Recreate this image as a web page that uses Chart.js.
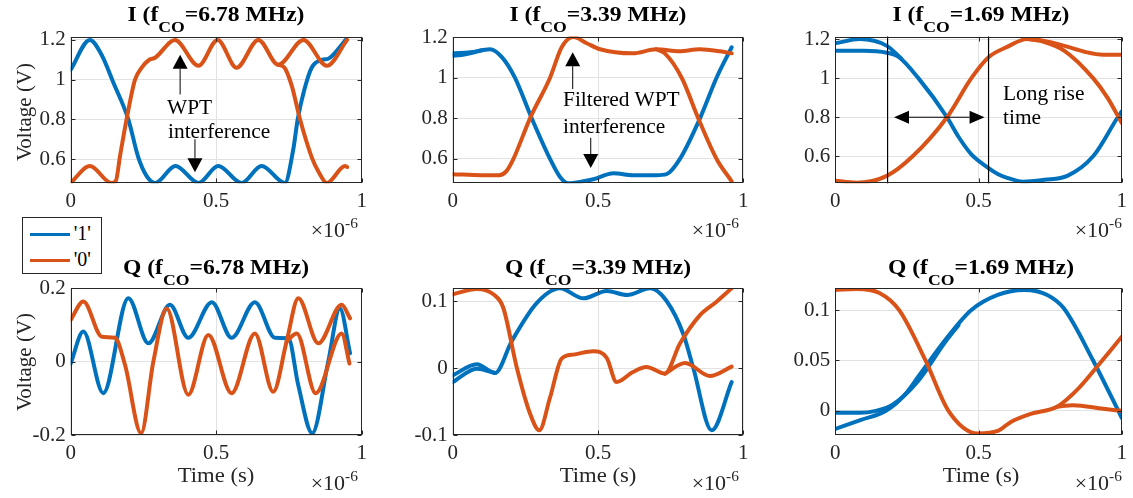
<!DOCTYPE html>
<html>
<head>
<meta charset="utf-8">
<script src="https://cdn.jsdelivr.net/npm/chart.js@4.4.0/dist/chart.umd.min.js"></script>
<style>
  html, body { margin: 0; padding: 0; background: #fff; }
  #fig { position: relative; width: 1133px; height: 498px; overflow: hidden;
         font-family: 'Liberation Serif', 'Times New Roman', serif; color: #262626; }
  #fig canvas { position: absolute; left: 0; top: 0; }
  .txt { position: absolute; white-space: nowrap; line-height: 1; font-size: 20px; }
  .ttl { font-weight: bold; color: #000; transform: translateX(-50%) scaleX(1.18); }
  .ttl .sub { font-size: 15px; position: relative; top: 11px; }
  .exp { transform: scaleX(1.1); transform-origin: right; }
  .exp .sup { font-size: 14px; position: relative; top: -9px; }
  .note { transform: scaleX(1.07); transform-origin: left; color: #000; }
  .xlab { transform: translateX(-50%) scaleX(1.08); font-size: 21px; }
  .ylab { font-size: 21px; transform: translate(-50%, -50%) rotate(-90deg); }
  #legend { position: absolute; left: 21.7px; top: 217.3px; width: 80px; height: 56.7px;
            border: 1px solid #262626; background: #fff; box-sizing: border-box; }
  .lgline { position: absolute; left: 7px; width: 40px; height: 3px; }
  .lgtxt { position: absolute; left: 51px; font-size: 20px; line-height: 1; color: #000; }
</style>
</head>
<body>
<div id="fig"></div>
<script>
// ---------------- data (time in units of 1e-6 s, voltage in V) ----------------
// I channel, fCO = 6.78 MHz
const tI678One   = [0, 0.066, 0.106, 0.148, 0.198, 0.232, 0.26, 0.29, 0.36, 0.439, 0.507, 0.587, 0.656, 0.736, 0.765, 0.78, 0.803, 0.828, 0.866, 0.885, 0.945];
const vI678One   = [1.05, 1.2, 1.125, 0.98, 0.8, 0.61, 0.517, 0.48, 0.565, 0.48, 0.565, 0.48, 0.565, 0.48, 0.65, 0.8, 0.95, 1.06, 1.1, 1.105, 1.2];
const tI678Zero  = [0, 0.066, 0.14, 0.155, 0.17, 0.192, 0.221, 0.244, 0.27, 0.29, 0.358, 0.439, 0.505, 0.57, 0.645, 0.713, 0.8, 0.88, 0.95];
const vI678Zero  = [0.48, 0.565, 0.48, 0.49, 0.62, 0.8, 1.0, 1.06, 1.1, 1.11, 1.2, 1.07, 1.2, 1.06, 1.2, 1.075, 1.2, 1.07, 1.2];
const tI678Zero2 = [0.713, 0.735, 0.76, 0.788, 0.828, 0.852, 0.88, 0.943, 0.95];
const vI678Zero2 = [1.075, 1.06, 0.967, 0.8, 0.61, 0.535, 0.48, 0.565, 0.56];

// I channel, fCO = 3.39 MHz
const tI339One   = [0, 0.06, 0.128, 0.17, 0.214, 0.272, 0.335, 0.37, 0.398, 0.45, 0.484, 0.553, 0.62, 0.7, 0.736, 0.782, 0.851, 0.908, 0.96];
const vI339One   = [1.12, 1.125, 1.14, 1.1, 1.0, 0.8, 0.6, 0.51, 0.48, 0.49, 0.5, 0.53, 0.52, 0.52, 0.525, 0.6, 0.8, 1.0, 1.15];
const tI339One2  = [0, 0.03, 0.06, 0.1];
const vI339One2  = [1.108, 1.112, 1.12, 1.135];
const tI339Zero  = [0, 0.1, 0.16, 0.185, 0.209, 0.266, 0.335, 0.375, 0.415, 0.461, 0.507, 0.62, 0.7, 0.78, 0.85, 0.92, 0.96];
const vI339Zero  = [0.525, 0.52, 0.52, 0.54, 0.6, 0.8, 1.0, 1.15, 1.2, 1.17, 1.14, 1.12, 1.14, 1.13, 1.14, 1.13, 1.12];
const tI339Zero2 = [0.7, 0.73, 0.788, 0.845, 0.908, 0.96];
const vI339Zero2 = [1.14, 1.12, 1.0, 0.8, 0.6, 0.49];

// I channel, fCO = 1.69 MHz
const tI169One   = [0, 0.085, 0.18, 0.23];
const vI169One   = [1.178, 1.2, 1.165, 1.1];
const tI169One2  = [0, 0.1, 0.18, 0.22, 0.29, 0.39, 0.43, 0.475, 0.535, 0.567, 0.6, 0.655, 0.73, 0.81, 0.9, 0.986, 1.0];
const vI169One2  = [1.14, 1.14, 1.13, 1.11, 1.0, 0.8, 0.7, 0.61, 0.54, 0.51, 0.49, 0.47, 0.48, 0.5, 0.6, 0.8, 0.83];
const tI169Zero  = [0, 0.073, 0.18, 0.27, 0.39, 0.475, 0.535, 0.6, 0.67, 0.73, 0.8, 0.87, 0.935, 1.0];
const vI169Zero  = [0.475, 0.465, 0.5, 0.6, 0.8, 1.0, 1.107, 1.16, 1.2, 1.19, 1.165, 1.135, 1.12, 1.12];
const tI169Zero2 = [0.67, 0.73, 0.8, 0.9, 0.95, 1.0];
const vI169Zero2 = [1.2, 1.185, 1.14, 1.0, 0.9, 0.77];

// Q channel, fCO = 6.78 MHz
const tQ678One   = [0, 0.0435, 0.112, 0.198, 0.267, 0.341, 0.404, 0.485, 0.553, 0.633, 0.702, 0.748, 0.782, 0.83, 0.885, 0.925, 0.96];
const vQ678One   = [-0.005, 0.082, -0.086, 0.173, 0.05, 0.155, 0.065, 0.162, 0.065, 0.162, 0.065, 0.064, -0.064, -0.195, 0.0, 0.145, 0.023];
const tQ678Zero  = [0, 0.0435, 0.107, 0.152, 0.187, 0.242, 0.284, 0.33, 0.404, 0.473, 0.553, 0.633, 0.696, 0.742, 0.782, 0.851, 0.931, 0.96];
const vQ678Zero  = [0.114, 0.164, 0.068, 0.065, -0.01, -0.195, 0.0, 0.145, -0.09, 0.073, -0.086, 0.077, -0.082, 0.055, 0.173, 0.05, 0.155, 0.118];
const tQ678Zero2 = [0.742, 0.777, 0.842, 0.931, 0.958];
const vQ678Zero2 = [0.055, 0.077, -0.086, 0.077, -0.005];

// Q channel, fCO = 3.39 MHz
const tQ339One   = [0, 0.083, 0.146, 0.203, 0.289, 0.369, 0.45, 0.53, 0.6, 0.68, 0.736, 0.794, 0.828, 0.891, 0.96];
const vQ339One   = [-0.011, 0.0055, -0.0075, 0.04, 0.097, 0.119, 0.104, 0.115, 0.109, 0.119, 0.1, 0.05, 0.0, -0.093, -0.021];
const tQ339One2  = [0, 0.083, 0.146];
const vQ339One2  = [-0.021, -0.001, -0.0075];
const tQ339Zero  = [0, 0.083, 0.14, 0.174, 0.22, 0.266, 0.298, 0.335, 0.375, 0.415, 0.484, 0.53, 0.564, 0.62, 0.667, 0.73, 0.782, 0.851, 0.908, 0.96];
const vQ339Zero  = [0.11, 0.118, 0.11, 0.09, 0.0015, -0.068, -0.093, -0.044, 0.014, 0.02, 0.025, 0.015, -0.021, -0.006, 0.0015, -0.0085, 0.0365, 0.079, 0.099, 0.119];
const tQ339Zero2 = [0.73, 0.8, 0.885, 0.96];
const vQ339Zero2 = [-0.0085, 0.0075, -0.012, 0.002];

// Q channel, fCO = 1.69 MHz
const tQ169One   = [0, 0.085, 0.142, 0.2, 0.29, 0.383, 0.43];
const vQ169One   = [-0.002, -0.002, 0.0, 0.006, 0.03, 0.068, 0.085];
const tQ169One2  = [0, 0.09, 0.177, 0.24, 0.29, 0.383, 0.475, 0.567, 0.66, 0.74, 0.797, 0.9, 1.0];
const vQ169One2  = [-0.018, -0.009, 0.0, 0.015, 0.034, 0.07, 0.1, 0.115, 0.12, 0.115, 0.102, 0.05, -0.007];
const tQ169Zero  = [0, 0.073, 0.154, 0.223, 0.315, 0.395, 0.498, 0.567, 0.613, 0.682, 0.774, 0.843, 0.923, 1.0];
const vQ169Zero  = [0.12, 0.121, 0.117, 0.1, 0.05, 0.0, -0.0225, -0.02, -0.011, -0.003, 0.004, 0.0205, 0.047, 0.0735];
const tQ169Zero2 = [0.774, 0.83, 0.935, 1.0];
const vQ169Zero2 = [0.004, 0.0056, 0.002, 0.0];

// tick labels
const xTicks     = [0, 0.5, 1];
const yTicksI    = [0.6, 0.8, 1, 1.2];
const yTicksQ678 = [-0.2, 0, 0.2];
const yTicksQ339 = [-0.1, 0, 0.1];
const yTicksQ169 = [0, 0.05, 0.1];

// ---------------- styling / layout ----------------
const W = 1133, H = 498;
const Y_W = 50, X_H = 30;
const C_ONE = '#0072BD', C_ZERO = '#D95319';
const GRID = '#e2e2e2';
const TICK_FONT = { family: "'Liberation Serif', 'Times New Roman', serif", size: 21 };

const colL = [70.7, 452.7, 835.3], colR = [361.7, 743.3, 1125.7];
const rowT = [36.5, 288.3], rowB = [183.3, 435];

const panels = [
  { col: 0, row: 0, yMin: 0.478, yMax: 1.217, yTicks: yTicksI,
    one: [[tI678One, vI678One]], zero: [[tI678Zero, vI678Zero], [tI678Zero2, vI678Zero2]],
    arrows: [{ x1: 0.376, y1: 0.925, x2: 0.376, y2: 1.125 }, { x1: 0.427, y1: 0.70, x2: 0.427, y2: 0.533 }] },
  { col: 1, row: 0, yMin: 0.48, yMax: 1.203, yTicks: yTicksI,
    one: [[tI339One, vI339One], [tI339One2, vI339One2]], zero: [[tI339Zero, vI339Zero], [tI339Zero2, vI339Zero2]],
    arrows: [{ x1: 0.413, y1: 0.944, x2: 0.413, y2: 1.126 }, { x1: 0.475, y1: 0.704, x2: 0.475, y2: 0.555 }] },
  { col: 2, row: 0, yMin: 0.462, yMax: 1.213, yTicks: yTicksI,
    one: [[tI169One, vI169One], [tI169One2, vI169One2]], zero: [[tI169Zero, vI169Zero], [tI169Zero2, vI169Zero2]],
    arrows: [{ x1: 0.205, y1: 0.8, x2: 0.521, y2: 0.8, both: true }], vlines: [0.1825, 0.535] },
  { col: 0, row: 1, yMin: -0.2, yMax: 0.2, yTicks: yTicksQ678,
    one: [[tQ678One, vQ678One]], zero: [[tQ678Zero, vQ678Zero], [tQ678Zero2, vQ678Zero2]] },
  { col: 1, row: 1, yMin: -0.1, yMax: 0.119, yTicks: yTicksQ339,
    one: [[tQ339One, vQ339One], [tQ339One2, vQ339One2]], zero: [[tQ339Zero, vQ339Zero], [tQ339Zero2, vQ339Zero2]] },
  { col: 2, row: 1, yMin: -0.024, yMax: 0.1216, yTicks: yTicksQ169,
    one: [[tQ169One, vQ169One], [tQ169One2, vQ169One2]], zero: [[tQ169Zero, vQ169Zero], [tQ169Zero2, vQ169Zero2]] }
];

function arrowHead(ctx, tx, ty, dx, dy, len, half) {
  const bx = tx - dx * len, by = ty - dy * len;
  ctx.beginPath();
  ctx.moveTo(tx, ty);
  ctx.lineTo(bx - dy * half, by + dx * half);
  ctx.lineTo(bx + dy * half, by - dx * half);
  ctx.closePath();
  ctx.fill();
}

// box, inner ticks and annotations drawn like a MATLAB axes
const axesPlugin = {
  id: 'matlabAxes',
  afterDatasetsDraw(chart, args, opts) {
    const { ctx, chartArea: a } = chart;
    const x = chart.scales.x, y = chart.scales.y;
    ctx.save();
    ctx.strokeStyle = '#000';
    ctx.fillStyle = '#000';
    ctx.lineWidth = 1.2;
    (opts.vlines || []).forEach(v => {
      const px = x.getPixelForValue(v);
      ctx.beginPath(); ctx.moveTo(px, a.top); ctx.lineTo(px, a.bottom); ctx.stroke();
    });
    ctx.lineWidth = 1;
    (opts.arrows || []).forEach(ar => {
      const x1 = x.getPixelForValue(ar.x1), y1 = y.getPixelForValue(ar.y1);
      const x2 = x.getPixelForValue(ar.x2), y2 = y.getPixelForValue(ar.y2);
      const d = Math.hypot(x2 - x1, y2 - y1), dx = (x2 - x1) / d, dy = (y2 - y1) / d;
      const len = ar.both ? 15 : 14, half = ar.both ? 6.5 : 7.5;
      ctx.beginPath();
      ctx.moveTo(x1 + (ar.both ? dx * len : 0), y1 + (ar.both ? dy * len : 0));
      ctx.lineTo(x2 - dx * len, y2 - dy * len);
      ctx.stroke();
      arrowHead(ctx, x2, y2, dx, dy, len, half);
      if (ar.both) arrowHead(ctx, x1, y1, -dx, -dy, len, half);
    });
    // axes box
    ctx.strokeStyle = '#262626';
    ctx.lineWidth = 1;
    const l = Math.round(a.left) + 0.5, t = Math.round(a.top) + 0.5;
    const r = Math.round(a.right) - 0.5, b = Math.round(a.bottom) - 0.5;
    ctx.strokeRect(l, t, r - l, b - t);
    // inner tick marks
    const tl = 4;
    ctx.beginPath();
    y.ticks.forEach(tk => {
      const py = Math.round(y.getPixelForValue(tk.value)) + 0.5;
      ctx.moveTo(l, py); ctx.lineTo(l + tl, py);
      ctx.moveTo(r, py); ctx.lineTo(r - tl, py);
    });
    x.ticks.forEach(tk => {
      const px = Math.round(x.getPixelForValue(tk.value)) + 0.5;
      ctx.moveTo(px, b); ctx.lineTo(px, b - tl);
      ctx.moveTo(px, t); ctx.lineTo(px, t + tl);
    });
    ctx.stroke();
    ctx.restore();
  }
};

function toPoints(ts, vs) {
  return ts.map((t, i) => ({ x: t, y: vs[i] }));
}

function lineSet(pair, color) {
  return {
    data: toPoints(pair[0], pair[1]),
    borderColor: color,
    borderWidth: 4,
    pointRadius: 0,
    cubicInterpolationMode: 'monotone',
    borderCapStyle: 'round',
    borderJoinStyle: 'round',
    fill: false,
    clip: 0
  };
}

const fig = document.getElementById('fig');

panels.forEach(p => {
  const left = colL[p.col], right = colR[p.col], top = rowT[p.row], bottom = rowB[p.row];
  const canvas = document.createElement('canvas');
  canvas.width = W; canvas.height = H;
  fig.appendChild(canvas);

  // orange first so it sits on top of blue
  const datasets = p.zero.map(s => lineSet(s, C_ZERO)).concat(p.one.map(s => lineSet(s, C_ONE)));

  new Chart(canvas, {
    type: 'line',
    data: { datasets },
    options: {
      responsive: false,
      animation: false,
      events: [],
      layout: {
        autoPadding: false,
        padding: { left: left - Y_W, top: top, right: W - right, bottom: H - bottom - X_H }
      },
      plugins: {
        legend: { display: false },
        tooltip: { enabled: false },
        matlabAxes: { arrows: p.arrows || [], vlines: p.vlines || [] }
      },
      scales: {
        x: {
          type: 'linear', min: 0, max: 1,
          afterBuildTicks: s => { s.ticks = xTicks.map(v => ({ value: v })); },
          afterFit: s => { s.height = X_H; },
          grid: { color: GRID, drawTicks: false },
          border: { display: false },
          ticks: { font: TICK_FONT, color: '#262626', padding: 6, maxRotation: 0, autoSkip: false,
                   callback: v => String(v) }
        },
        y: {
          type: 'linear', min: p.yMin, max: p.yMax,
          afterBuildTicks: s => { s.ticks = p.yTicks.map(v => ({ value: v })); },
          afterFit: s => { s.width = Y_W; },
          grid: { color: GRID, drawTicks: false },
          border: { display: false },
          ticks: { font: TICK_FONT, color: '#262626', padding: 5, autoSkip: false,
                   callback: v => String(v) }
        }
      }
    },
    plugins: [axesPlugin]
  });
});

// ---------------- text: titles, labels, notes, legend ----------------
function addText(cls, html, style) {
  const d = document.createElement('div');
  d.className = 'txt ' + cls;
  d.innerHTML = html;
  Object.assign(d.style, style);
  fig.appendChild(d);
  return d;
}

const titles = [
  ['I', '6.78'], ['I', '3.39'], ['I', '1.69'],
  ['Q', '6.78'], ['Q', '3.39'], ['Q', '1.69']
];
const titleTop = [4, 256.5];
titles.forEach((tt, i) => {
  const col = i % 3, row = Math.floor(i / 3);
  const cx = (colL[col] + colR[col]) / 2;
  addText('ttl', tt[0] + ' (f<span class="sub">CO</span>=' + tt[1] + ' MHz)',
          { left: cx + 'px', top: titleTop[row] + 'px' });
});

const expTop = [220, 473];
for (let row = 0; row < 2; row++) {
  for (let col = 0; col < 3; col++) {
    addText('exp', '&times;10<span class="sup">-6</span>',
            { right: (W - colR[col] + 4) + 'px', top: expTop[row] + 'px' });
  }
}

for (let col = 0; col < 3; col++) {
  addText('xlab', 'Time (s)', { left: ((colL[col] + colR[col]) / 2) + 'px', top: '465px' });
}
addText('ylab', 'Voltage (V)', { left: '24px', top: '111.7px' });
addText('ylab', 'Voltage (V)', { left: '24px', top: '361.7px' });

addText('note', 'WPT', { left: '167px', top: '96.5px' });
addText('note', 'interference', { left: '168px', top: '120.5px' });
addText('note', 'Filtered WPT', { left: '562.7px', top: '89px' });
addText('note', 'interference', { left: '562.7px', top: '115.5px' });
addText('note', 'Long rise', { left: '1003.3px', top: '83px' });
addText('note', 'time', { left: '1003.3px', top: '107px' });

const legendItems = [["'1'", C_ONE], ["'0'", C_ZERO]];
const legend = document.createElement('div');
legend.id = 'legend';
legendItems.forEach((it, i) => {
  const ln = document.createElement('div');
  ln.className = 'lgline';
  ln.style.top = (14.5 + i * 26) + 'px';
  ln.style.background = it[1];
  legend.appendChild(ln);
  const tx = document.createElement('div');
  tx.className = 'lgtxt';
  tx.style.top = (5 + i * 26) + 'px';
  tx.textContent = it[0];
  legend.appendChild(tx);
});
fig.appendChild(legend);
</script>
</body>
</html>
